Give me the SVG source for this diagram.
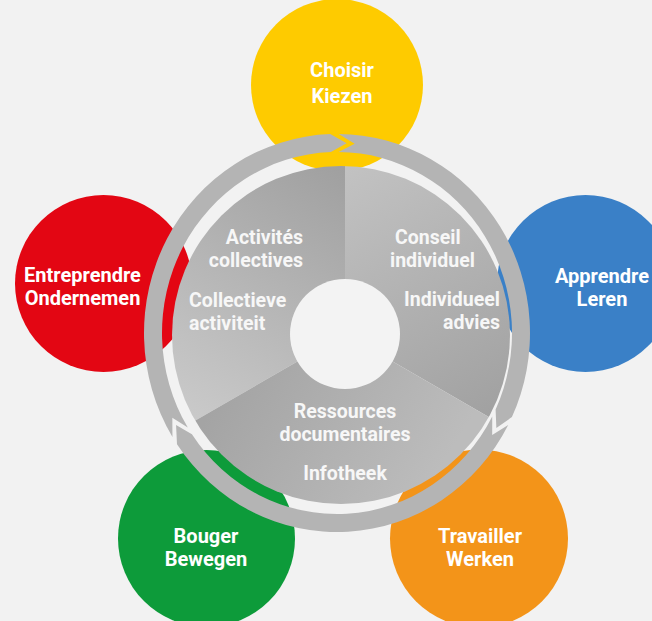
<svg xmlns="http://www.w3.org/2000/svg" width="652" height="621" viewBox="0 0 652 621">
<style>
.lbl{font-family:Roboto,"Liberation Sans",sans-serif;font-weight:700;font-size:20px;fill:#ffffff;}
.pl{font-family:Roboto,"Liberation Sans",sans-serif;font-weight:700;font-size:19.5px;fill:#f7f7f7;}
.mid{text-anchor:middle;}
.end{text-anchor:end;}
.ring{fill:#b4b4b4;}
</style>
<defs>
<clipPath id="pieClip"><circle cx="341" cy="335" r="169"/></clipPath>
<linearGradient id="gTL" gradientUnits="userSpaceOnUse" x1="190" y1="420" x2="345" y2="170"><stop offset="0" stop-color="#cacaca"/><stop offset="1" stop-color="#a0a0a0"/></linearGradient>
<linearGradient id="gTR" gradientUnits="userSpaceOnUse" x1="345" y1="170" x2="500" y2="420"><stop offset="0" stop-color="#c2c2c2"/><stop offset="1" stop-color="#a0a0a0"/></linearGradient>
<linearGradient id="gB" gradientUnits="userSpaceOnUse" x1="230" y1="380" x2="420" y2="500"><stop offset="0" stop-color="#a4a4a4"/><stop offset="1" stop-color="#bcbcbc"/></linearGradient>
</defs>
<rect width="652" height="621" fill="#f2f2f2"/>

<g id="node-choisir">
<circle cx="337" cy="85" r="86" fill="#fecb00"/>
<text class="lbl mid" x="342" y="77">Choisir</text>
<text class="lbl mid" x="342" y="103">Kiezen</text>
</g>
<g id="node-entreprendre">
<circle cx="103.5" cy="283.5" r="88.5" fill="#e30613"/>
<text class="lbl mid" x="82.5" y="282">Entreprendre</text>
<text class="lbl mid" x="82.5" y="305">Ondernemen</text>
</g>
<g id="node-apprendre">
<circle cx="585.5" cy="283.5" r="88.5" fill="#3a80c7"/>
<text class="lbl mid" x="602" y="283">Apprendre</text>
<text class="lbl mid" x="602" y="306">Leren</text>
</g>
<g id="node-bouger">
<circle cx="206.5" cy="538.5" r="88.5" fill="#0d9b3a"/>
<text class="lbl mid" x="206" y="543">Bouger</text>
<text class="lbl mid" x="206" y="566">Bewegen</text>
</g>
<g id="node-travailler">
<circle cx="479" cy="538.5" r="89" fill="#f39419"/>
<text class="lbl mid" x="480" y="543">Travailler</text>
<text class="lbl mid" x="480" y="566">Werken</text>
</g>

<g id="connectors">
<path class="ring" d="M338.68 134.01 A193 199 0 0 1 511.92 417.10 L496.35 428 L495.60 409.49 A175 181 0 0 0 338.53 152.01 L354.64 143.87 Z"/>
<path class="ring" d="M508.19 424.89 A193 199 0 0 1 177.00 444.28 L176.07 425.11 L191.92 434.21 A175 181 0 0 0 492.23 416.58 L492.18 435.09 Z"/>
<path class="ring" d="M172.44 436.98 A193 199 0 0 1 330.26 134.12 L346.63 143.26 L330.89 152.11 A175 181 0 0 0 187.79 427.57 L172.33 417.78 Z"/>
</g>

<g id="hub">
<g clip-path="url(#pieClip)">
<polygon points="345,334 345,-66 -1.4,-66 -1.4,534" fill="url(#gTL)"/>
<polygon points="345,334 345,-66 691.4,-66 691.4,534" fill="url(#gTR)"/>
<polygon points="345,334 691.4,534 -1.4,534" fill="url(#gB)"/>
</g>
<circle cx="345" cy="334" r="55" fill="#f3f3f3"/>
</g>

<g id="node-activites">
<text class="pl end" x="303" y="244">Activités</text>
<text class="pl end" x="303" y="267">collectives</text>
<text class="pl" x="189" y="307">Collectieve</text>
<text class="pl" x="189" y="330">activiteit</text>
</g>
<g id="node-conseil">
<text class="pl" x="395" y="244">Conseil</text>
<text class="pl" x="390" y="267">individuel</text>
<text class="pl end" x="500" y="306">Individueel</text>
<text class="pl end" x="500" y="329">advies</text>
</g>
<g id="node-ressources">
<text class="pl mid" x="345" y="418">Ressources</text>
<text class="pl mid" x="345" y="441">documentaires</text>
<text class="pl mid" x="345" y="480">Infotheek</text>
</g>
</svg>
